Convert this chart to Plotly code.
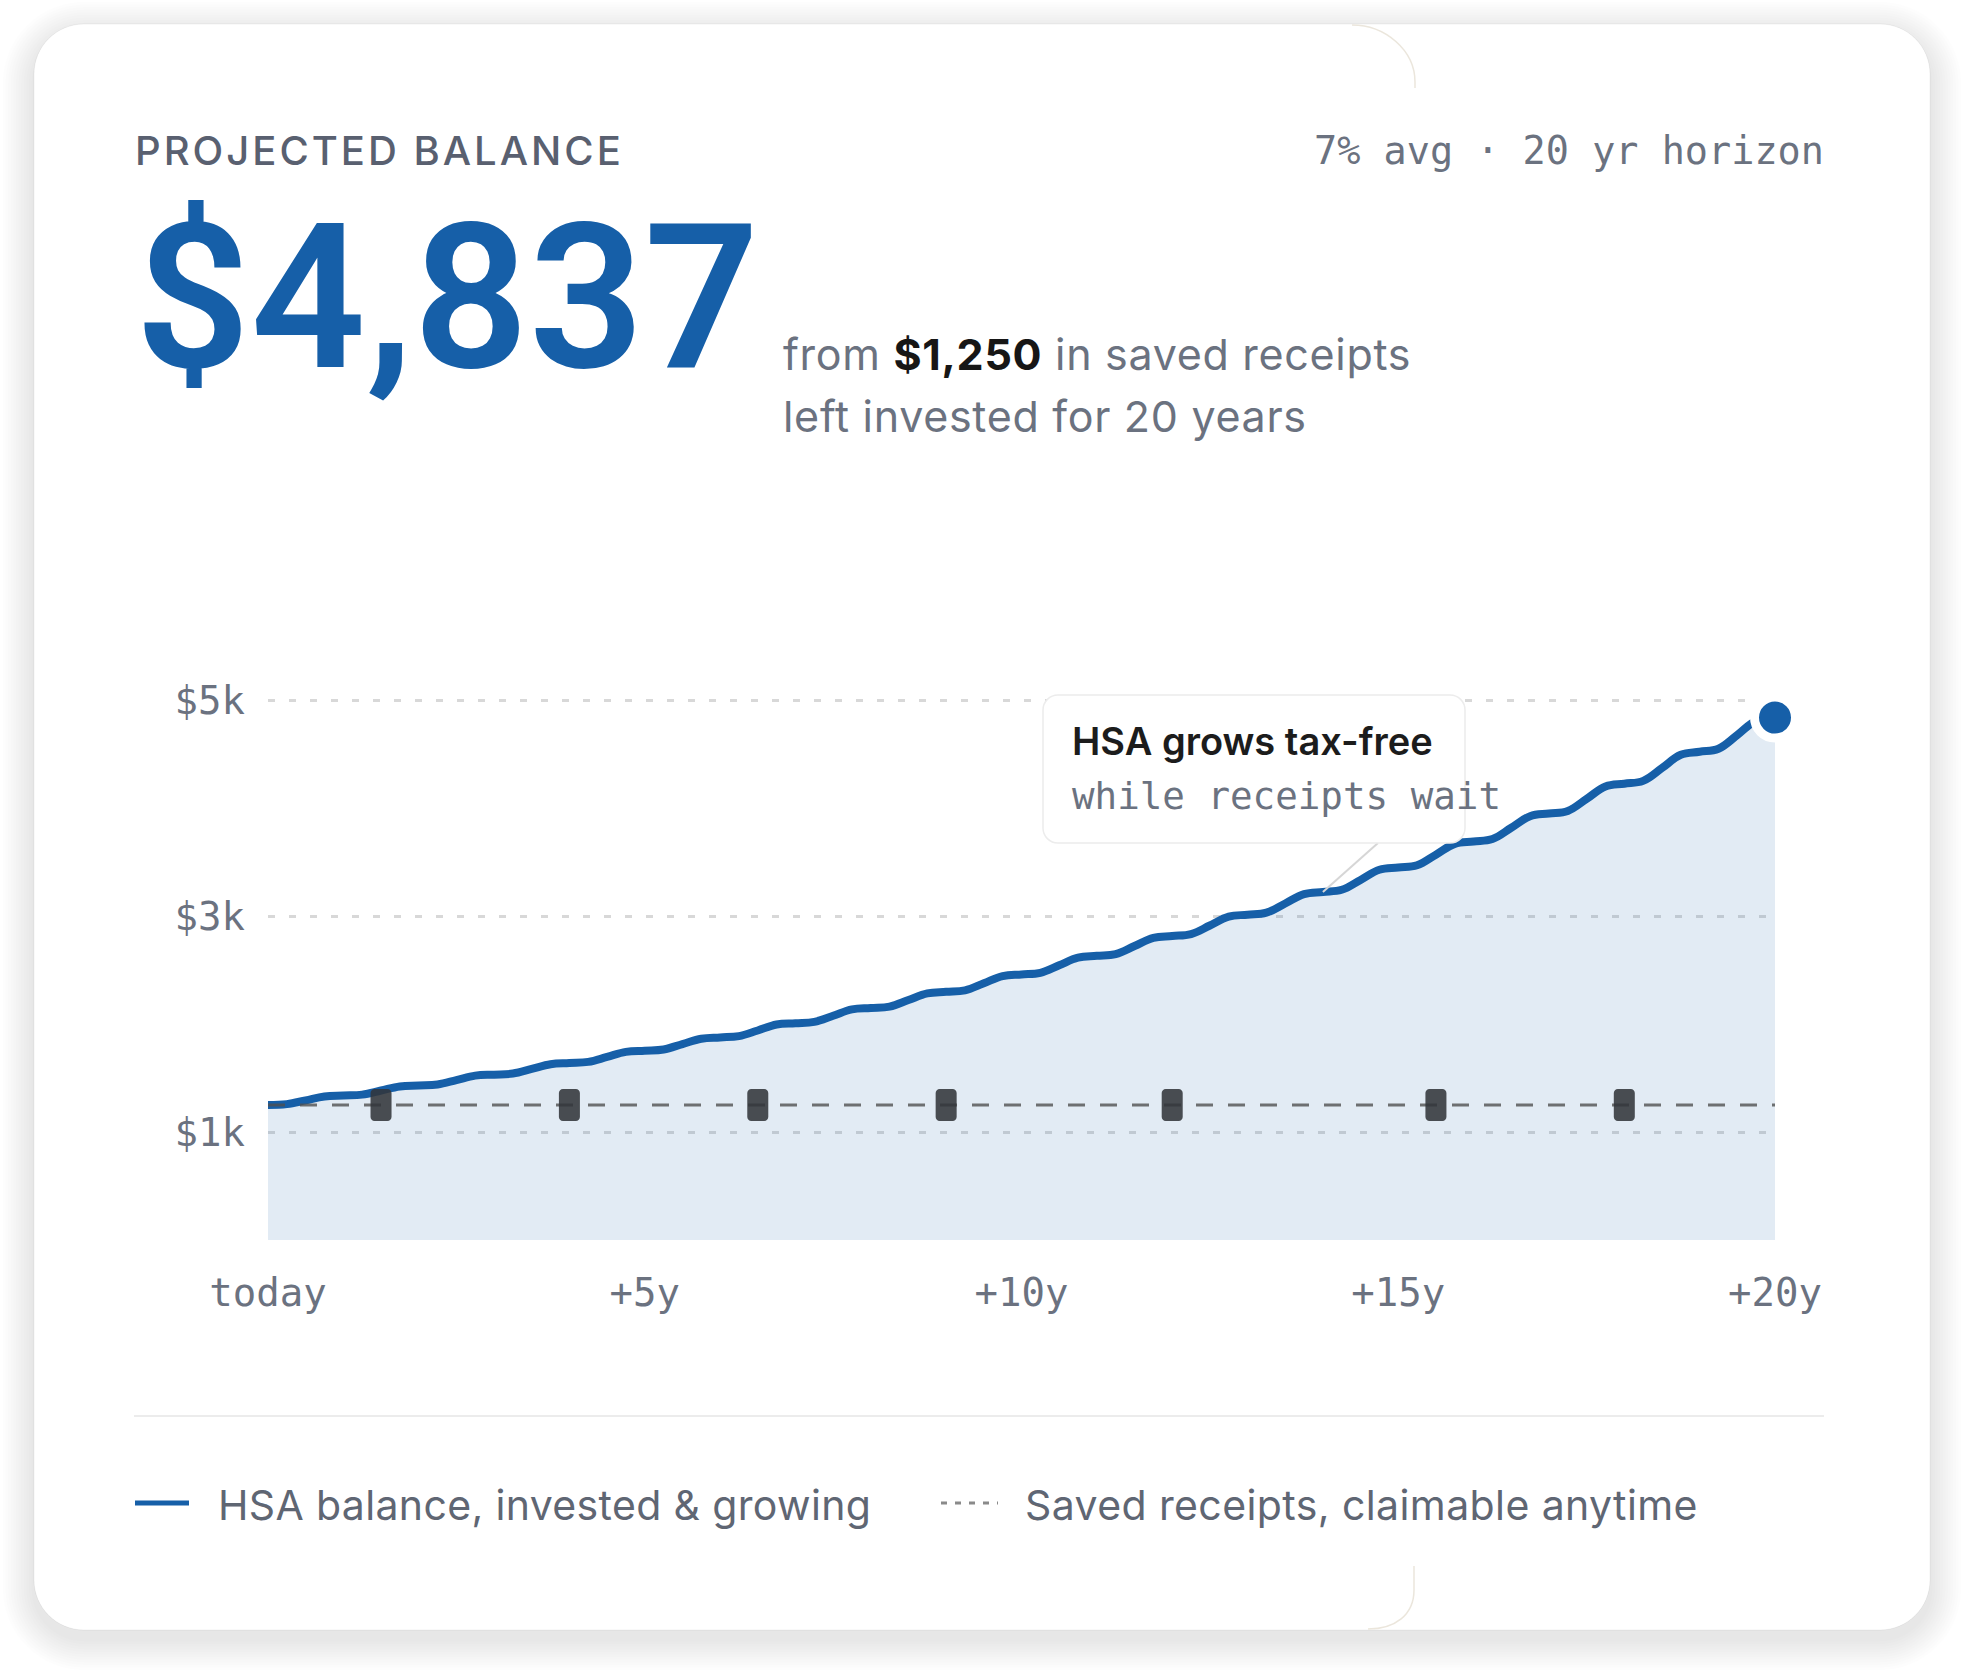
import plotly.graph_objects as go

# ---------------- data ----------------
years = [0, 0.25, 0.5, 0.75, 1, 1.25, 1.5, 1.75, 2, 2.25, 2.5, 2.75, 3, 3.25, 3.5, 3.75,
         4, 4.25, 4.5, 4.75, 5, 5.25, 5.5, 5.75, 6, 6.25, 6.5, 6.75, 7, 7.25, 7.5, 7.75,
         8, 8.25, 8.5, 8.75, 9, 9.25, 9.5, 9.75, 10, 10.25, 10.5, 10.75, 11, 11.25, 11.5, 11.75,
         12, 12.25, 12.5, 12.75, 13, 13.25, 13.5, 13.75, 14, 14.25, 14.5, 14.75, 15, 15.25, 15.5, 15.75,
         16, 16.25, 16.5, 16.75, 17, 17.25, 17.5, 17.75, 18, 18.25, 18.5, 18.75, 19, 19.25, 19.5, 19.75, 20]
balance = [1250, 1258, 1293, 1329, 1338, 1346, 1384, 1422, 1431, 1440, 1480, 1522, 1531, 1541, 1584, 1628,
           1639, 1649, 1695, 1742, 1753, 1764, 1814, 1864, 1876, 1888, 1940, 1995, 2007, 2020, 2076, 2135,
           2148, 2161, 2222, 2284, 2298, 2312, 2377, 2444, 2459, 2474, 2544, 2615, 2631, 2647, 2722, 2798,
           2815, 2833, 2912, 2994, 3012, 3031, 3116, 3203, 3223, 3243, 3334, 3428, 3449, 3470, 3568, 3668,
           3690, 3713, 3817, 3924, 3949, 3973, 4084, 4199, 4225, 4251, 4370, 4493, 4521, 4549, 4676, 4808, 4837]
receipt_years = [1.5, 4, 6.5, 9, 12, 15.5, 18]
receipt_total = 1250
y_ticks = [1000, 3000, 5000]
y_tick_labels = ["$1k", "$3k", "$5k"]
x_ticks = [0, 5, 10, 15, 20]
x_tick_labels = ["today", "+5y", "+10y", "+15y", "+20y"]
callout_year = 14

# ---------------- layout helpers ----------------
W, H = 1963, 1671
BLUE = "#165fa8"
GREY_TXT = "#6b7280"
MONO = "DejaVu Sans Mono"
SANS = "Inter"


def px(x):
    return x / W


def py(y):
    return 1 - y / H


PLOT_L, PLOT_R, PLOT_B = 268, 1775, 1240
PX_PER_K = 108
Y_MAX = 5200
PLOT_T = PLOT_B - Y_MAX / 1000 * PX_PER_K
X_MAX = years[-1]
x_scale = (PLOT_R - PLOT_L) / X_MAX          # px per year
y_scale = (PLOT_B - PLOT_T) / Y_MAX          # px per dollar

K = 0.5523


def rr_path(x0, y0, x1, y1, rx, ry, tf=lambda a, b: (a, b)):
    pts = [
        ("M", [(x0 + rx, y0)]),
        ("L", [(x1 - rx, y0)]),
        ("C", [(x1 - rx + K * rx, y0), (x1, y0 + ry - K * ry), (x1, y0 + ry)]),
        ("L", [(x1, y1 - ry)]),
        ("C", [(x1, y1 - ry + K * ry), (x1 - rx + K * rx, y1), (x1 - rx, y1)]),
        ("L", [(x0 + rx, y1)]),
        ("C", [(x0 + rx - K * rx, y1), (x0, y1 - ry + K * ry), (x0, y1 - ry)]),
        ("L", [(x0, y0 + ry)]),
        ("C", [(x0, y0 + ry - K * ry), (x0 + rx - K * rx, y0), (x0 + rx, y0)]),
    ]
    out = []
    for cmd, ps in pts:
        coords = " ".join("%.6f,%.6f" % tf(a, b) for a, b in ps)
        out.append(cmd + coords)
    return " ".join(out) + " Z"


def paper_tf(a, b):
    return (px(a), py(b))


def pix_path(cmds):
    out = []
    for cmd, ps in cmds:
        out.append(cmd + " ".join("%.6f,%.6f" % paper_tf(a, b) for a, b in ps))
    return " ".join(out)


fig = go.Figure()

# area + balance line
fig.add_trace(go.Scatter(
    x=years, y=balance, mode="lines",
    line=dict(color=BLUE, width=8, shape="spline", smoothing=1.1),
    fill="tozeroy", fillcolor="rgba(22,95,168,0.125)",
    hoverinfo="skip", showlegend=False))

# saved receipts dashed line
fig.add_trace(go.Scatter(
    x=[years[0], years[-1]], y=[receipt_total, receipt_total], mode="lines",
    line=dict(color="rgba(80,80,80,0.8)", width=3.2, dash="17px,15px"),
    hoverinfo="skip", showlegend=False))

# end dot
fig.add_trace(go.Scatter(
    x=[years[-1]], y=[balance[-1]], mode="markers",
    marker=dict(size=41, color=BLUE, line=dict(color="white", width=9)),
    cliponaxis=False, hoverinfo="skip", showlegend=False))

shapes = []

# card shadow
CX0, CY0, CX1, CY1, CR = 34, 24, 1930, 1630, 50
for i in range(1, 13):
    g = 2.6 * i
    shapes.append(dict(type="path", xref="paper", yref="paper", layer="below",
                       path=rr_path(CX0 - g, CY0 - g + 9, CX1 + g, CY1 + g + 9, CR + g, CR + g, paper_tf),
                       fillcolor="rgba(0,0,0,0.0065)", line=dict(width=0)))
# card
shapes.append(dict(type="path", xref="paper", yref="paper", layer="below",
                   path=rr_path(CX0, CY0, CX1, CY1, CR, CR, paper_tf),
                   fillcolor="#ffffff", line=dict(color="rgba(0,0,0,0.05)", width=1)))
# faint inner panel edges
shapes.append(dict(type="path", xref="paper", yref="paper", layer="below",
                   path=pix_path([("M", [(1352, 25)]),
                                  ("C", [(1385, 25), (1415, 50), (1415, 82)]),
                                  ("L", [(1415, 88)])]),
                   line=dict(color="#ebe6dc", width=1.5)))
shapes.append(dict(type="path", xref="paper", yref="paper", layer="below",
                   path=pix_path([("M", [(1414, 1566)]),
                                  ("L", [(1414, 1590)]),
                                  ("C", [(1414, 1615), (1395, 1629), (1368, 1629)])]),
                   line=dict(color="#ebe6dc", width=1.5)))

# receipt markers (rounded tags)
hw, hh, rad = 10.5 / x_scale, 16 / y_scale, 4
for t in receipt_years:
    shapes.append(dict(type="path", xref="x", yref="y", layer="above",
                       path=rr_path(t - hw, receipt_total - hh, t + hw, receipt_total + hh,
                                    rad / x_scale, rad / y_scale),
                       fillcolor="rgba(50,53,58,0.88)", line=dict(width=0)))

# callout connector
ci = years.index(callout_year)
bx, by = 1378, 843
shapes.append(dict(type="line", xref="x", yref="y", layer="above",
                   x0=years[ci], y0=balance[ci],
                   x1=(bx - PLOT_L) / x_scale, y1=(PLOT_B - by) / y_scale,
                   line=dict(color="#d6d6d6", width=2)))
# callout box
shapes.append(dict(type="path", xref="paper", yref="paper", layer="above",
                   path=rr_path(1043, 695, 1465, 843, 15, 15, paper_tf),
                   fillcolor="#ffffff", line=dict(color="#ececec", width=1.5)))

# separator
shapes.append(dict(type="line", xref="paper", yref="paper", layer="below",
                   x0=px(134), x1=px(1824), y0=py(1416), y1=py(1416),
                   line=dict(color="#ececec", width=2)))
# legend swatches
shapes.append(dict(type="line", xref="paper", yref="paper", layer="above",
                   x0=px(135), x1=px(189), y0=py(1503), y1=py(1503),
                   line=dict(color=BLUE, width=5)))
shapes.append(dict(type="line", xref="paper", yref="paper", layer="above",
                   x0=px(941), x1=px(998), y0=py(1503), y1=py(1503),
                   line=dict(color="#8a8a8a", width=3, dash="6px,8px")))

ann = []


def text(x, y, s, size, color, family=SANS, weight=400, xanchor="left"):
    ann.append(dict(xref="paper", yref="paper", x=px(x), y=py(y), text=s, showarrow=False,
                    xanchor=xanchor, yanchor="middle", align="left",
                    font=dict(family=family, size=size, color=color, weight=weight)))


def spaced(s, ls):
    return "<span style='letter-spacing:%spx'>%s</span>" % (ls, s)


text(133, 150.5, spaced("PROJECTED BALANCE", 3), 40, "#596070", weight=500)
text(1826, 151, "%d%% avg · %d yr horizon" % (7, int(X_MAX)), 38.5, GREY_TXT, family=MONO, xanchor="right")
text(133, 298, "${:,}".format(balance[-1]), 202, BLUE, family="Roboto", weight=600)
text(781, 354, spaced("from <span style='color:#161616;font-weight:700'>${:,}</span> in saved receipts".format(receipt_total), 0.7),
     43, GREY_TXT)
text(781, 416, spaced("left invested for %d years" % int(X_MAX), 0.7), 43, GREY_TXT)
text(1070, 740.5, "HSA grows tax-free", 38, "#1c1c1c", weight=600)
text(1070, 796, "while receipts wait", 37.5, GREY_TXT, family=MONO)
text(216, 1505, spaced("HSA balance, invested &amp; growing", 0.35), 41, "#5f6673")
text(1023, 1505, spaced("Saved receipts, claimable anytime", 0.4), 41, "#5f6673")

fig.update_layout(
    width=W, height=H, autosize=False,
    margin=dict(l=0, r=0, t=0, b=0, pad=0, autoexpand=False),
    paper_bgcolor="#ffffff", plot_bgcolor="rgba(0,0,0,0)",
    showlegend=False,
    shapes=shapes, annotations=ann,
    xaxis=dict(domain=[px(PLOT_L), px(PLOT_R)], range=[0, X_MAX], automargin=False,
               tickvals=x_ticks, ticktext=x_tick_labels, showgrid=False, zeroline=False,
               showline=False, ticks="", ticklabelstandoff=26,
               tickfont=dict(family=MONO, size=39, color=GREY_TXT), fixedrange=True),
    yaxis=dict(domain=[py(PLOT_B), py(PLOT_T)], range=[0, Y_MAX], automargin=False,
               tickvals=y_ticks, ticktext=y_tick_labels, showgrid=True,
               gridcolor="#d8d8d8", gridwidth=2.5, griddash="7px,14px",
               zeroline=False, showline=False, ticks="", ticklabelstandoff=22,
               tickfont=dict(family=MONO, size=39, color=GREY_TXT), fixedrange=True),
)

fig.write_html("out.html", config={"displayModeBar": False},
               post_script="document.body.style.margin='0';")
